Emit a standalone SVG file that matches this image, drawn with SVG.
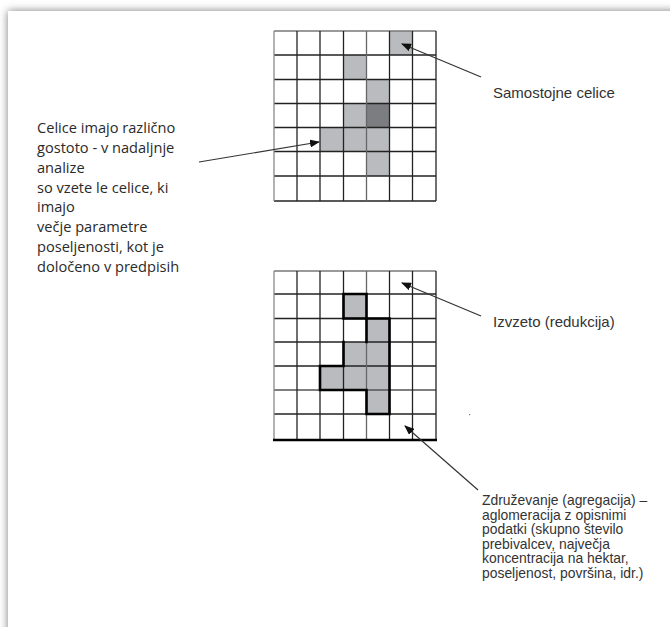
<svg xmlns="http://www.w3.org/2000/svg" width="670" height="627" viewBox="0 0 670 627">
<style>
.grid line{stroke:#222;stroke-width:1.3}
.light{fill:#b9bbbe}
.dark{fill:#7c7d81}
.thick{fill:none;stroke:#000;stroke-width:2.6;stroke-linecap:square}
.conn{stroke:#333;stroke-width:1.2;fill:none;marker-end:url(#ah)}
.lbl{font-family:"Liberation Sans",Arial,sans-serif;font-size:15px;fill:#333}
.small{font-family:"Liberation Sans",Arial,sans-serif;font-size:13.9px;fill:#333}
.note{font-family:"Open Sans","Liberation Sans",sans-serif;font-size:14.6px;fill:#2a2a2a}
</style>
<defs>
<filter id="sh" x="-10%" y="-10%" width="120%" height="120%"><feGaussianBlur stdDeviation="4"/></filter>
<marker id="ah" markerUnits="userSpaceOnUse" markerWidth="10" markerHeight="8" refX="9" refY="4" orient="auto"><path d="M0,0 L10,4 L0,8 z" fill="#111"/></marker>
</defs>
<rect x="0" y="0" width="670" height="627" fill="#fff"/>
<rect x="8" y="11" width="700" height="700" fill="#7a7a7a" filter="url(#sh)"/>
<rect x="8" y="11" width="700" height="700" fill="#fff"/>

<g id="grid1">
<rect class="light" x="389.5" y="31" width="23" height="24"/>
<rect class="light" x="343.5" y="55" width="23" height="24.5"/>
<rect class="light" x="366.5" y="79.5" width="23" height="24"/>
<rect class="light" x="343.5" y="103.5" width="23" height="24"/>
<rect class="dark" x="366.5" y="103.5" width="23" height="24"/>
<rect class="light" x="320" y="127.5" width="69.5" height="24"/>
<rect class="light" x="366.5" y="151.5" width="23" height="24.5"/>
<g class="grid">
<line x1="274" y1="31" x2="436" y2="31" style="stroke:#777"/>
<line x1="274" y1="55" x2="436" y2="55"/>
<line x1="274" y1="79.5" x2="436" y2="79.5"/>
<line x1="274" y1="103.5" x2="436" y2="103.5"/>
<line x1="274" y1="127.5" x2="436" y2="127.5"/>
<line x1="274" y1="151.5" x2="436" y2="151.5"/>
<line x1="274" y1="176" x2="436" y2="176"/>
<line x1="274" y1="201" x2="436" y2="201"/>
<line x1="274" y1="31" x2="274" y2="201" style="stroke:#888"/>
<line x1="297" y1="31" x2="297" y2="201"/>
<line x1="320" y1="31" x2="320" y2="201"/>
<line x1="343.5" y1="31" x2="343.5" y2="201"/>
<line x1="366.5" y1="31" x2="366.5" y2="201" style="stroke:#666"/>
<line x1="389.5" y1="31" x2="389.5" y2="201"/>
<line x1="412.5" y1="31" x2="412.5" y2="201"/>
<line x1="436" y1="31" x2="436" y2="201"/>
</g>
</g>

<g id="grid2">
<rect class="light" x="343.5" y="294" width="23" height="24.5"/>
<rect class="light" x="366.5" y="318.5" width="23" height="23.5"/>
<rect class="light" x="343.5" y="342" width="46" height="24"/>
<rect class="light" x="320" y="366" width="69.5" height="24"/>
<rect class="light" x="366.5" y="390" width="23" height="24"/>
<g class="grid">
<line x1="274" y1="271" x2="436" y2="271" style="stroke:#777"/>
<line x1="274" y1="294" x2="436" y2="294"/>
<line x1="274" y1="318.5" x2="436" y2="318.5"/>
<line x1="274" y1="342" x2="436" y2="342"/>
<line x1="274" y1="366" x2="436" y2="366"/>
<line x1="274" y1="390" x2="436" y2="390" style="stroke:#555"/>
<line x1="274" y1="414" x2="436" y2="414"/>
<line x1="274" y1="271" x2="274" y2="440" style="stroke:#888"/>
<line x1="297" y1="271" x2="297" y2="440"/>
<line x1="320" y1="271" x2="320" y2="440"/>
<line x1="343.5" y1="271" x2="343.5" y2="440"/>
<line x1="366.5" y1="271" x2="366.5" y2="440" style="stroke:#666"/>
<line x1="389.5" y1="271" x2="389.5" y2="440"/>
<line x1="412.5" y1="271" x2="412.5" y2="440"/>
<line x1="436" y1="271" x2="436" y2="440"/>
</g>
<line x1="273" y1="440" x2="437" y2="440" stroke="#000" stroke-width="2.6"/>
<path class="thick" d="M343.5,318.5 V294 H366.5 V342 M343.5,318.5 H366.5"/>
<path class="thick" d="M366.5,318.5 H389.5 V414 H366.5 V390 H320 V366 H343.5 V342"/>
</g>

<g id="connectors">
<path class="conn" d="M481,77 L402,44"/>
<path class="conn" d="M199,162 L319,142"/>
<path class="conn" d="M481,316 L402,283"/>
<path class="conn" d="M478,490 L405,426"/>
</g>

<g id="label-samostojne"><text class="lbl" x="493" y="98">Samostojne celice</text></g>
<g id="label-izvzeto"><text class="lbl" x="493" y="327">Izvzeto (redukcija)</text></g>
<g id="label-celice">
<text class="note" x="37" y="133">Celice imajo različno</text>
<text class="note" x="37" y="153">gostoto - v nadaljnje</text>
<text class="note" x="37" y="173">analize</text>
<text class="note" x="37" y="193">so vzete le celice, ki</text>
<text class="note" x="37" y="212">imajo</text>
<text class="note" x="37" y="232">večje parametre</text>
<text class="note" x="37" y="252">poseljenosti, kot je</text>
<text class="note" x="37" y="272">določeno v predpisih</text>
</g>
<g id="label-zdruzevanje">
<text class="small" x="482" y="505">Združevanje (agregacija) –</text>
<text class="small" x="482" y="519.5">aglomeracija z opisnimi</text>
<text class="small" x="482" y="534">podatki (skupno število</text>
<text class="small" x="482" y="548.5">prebivalcev, največja</text>
<text class="small" x="482" y="563">koncentracija na hektar,</text>
<text class="small" x="482" y="577.5">poseljenost, površina, idr.)</text>
</g>
<rect x="469" y="414" width="1.2" height="1.2" fill="#777"/>
</svg>
